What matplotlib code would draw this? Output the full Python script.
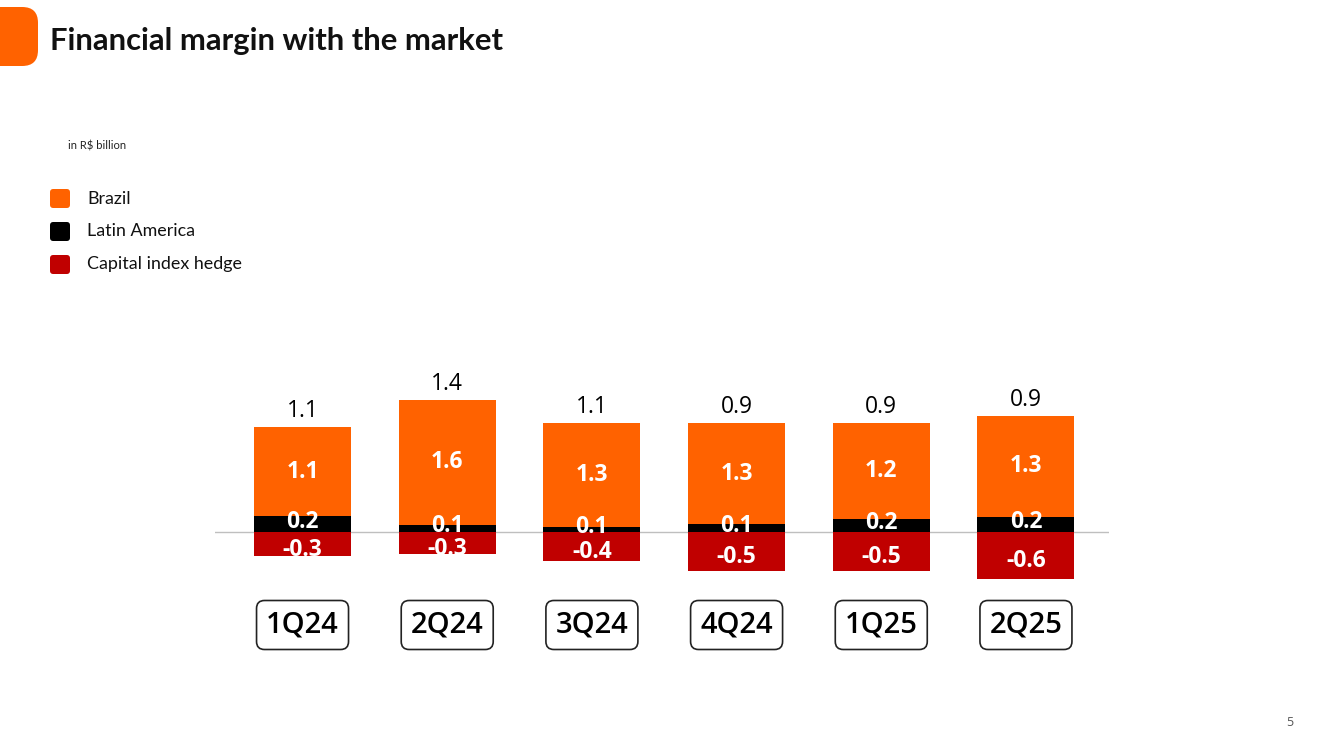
import numpy as np
import matplotlib
matplotlib.use('Agg')
import matplotlib.pyplot as plt
from matplotlib.patches import FancyBboxPatch

# data (R$ billion)
quarters = ['1Q24', '2Q24', '3Q24', '4Q24', '1Q25', '2Q25']
brazil = [1.11, 1.56, 1.30, 1.26, 1.20, 1.26]
latam = [0.20, 0.09, 0.06, 0.10, 0.16, 0.19]
hedge = [-0.30, -0.28, -0.36, -0.49, -0.49, -0.59]
total = ['1.1', '1.4', '1.1', '0.9', '0.9', '0.9']
series = ['Brazil', 'Latin America', 'Capital index hedge']

c_orange = '#FF6200'
c_black = '#000000'
c_red = '#C00000'
colors = [c_orange, c_black, c_red]

W, H = 1318, 741
fig = plt.figure(figsize=(W / 100, H / 100), dpi=100)
fig.patch.set_facecolor('white')

# top-left orange tab
fig.patches.append(FancyBboxPatch((-20 / W, 1 - 66 / H), 58 / W, 59 / H,
                                  boxstyle='round,pad=0,rounding_size=0.012',
                                  transform=fig.transFigure, fc=c_orange, ec='none',
                                  mutation_aspect=W / H))
fig.text(50 / W, 1 - 41 / H, 'Financial margin with the market', fontsize=22.3,
         fontweight='bold', family='Lato', va='center', ha='left', color='#111111')
fig.text(68 / W, 1 - 146 / H, 'in R$ billion', fontsize=8, family='Lato',
         va='center', ha='left', color='#222222')

# legend
for i, (name, col) in enumerate(zip(series, colors)):
    yc = 1 - (198.5 + 33 * i) / H
    fig.patches.append(FancyBboxPatch((50 / W, yc - 9.5 / H), 20 / W, 19 / H,
                                      boxstyle='round,pad=0,rounding_size=0.0025',
                                      transform=fig.transFigure, fc=col, ec='none',
                                      mutation_aspect=W / H))
    fig.text(87 / W, yc, name, fontsize=12.9, family='Lato', va='center',
             ha='left', color='#111111')

fig.text(1290 / W, 1 - 722 / H, '5', fontsize=9, color='#555555', family='Open Sans',
         va='center', ha='center')

ax = fig.add_axes([215 / W, 1 - 660 / H, (1109 - 215) / W, 300 / H])
ax.set_xlim(-0.605, 5.574)
ax.set_ylim(-1.6, 2.15)
ax.axis('off')

x = np.arange(len(quarters))
bw = 0.67
ax.axhline(0, color='#BFBFBF', lw=1, zorder=0)
ax.bar(x, latam, bw, color=c_black, zorder=2)
ax.bar(x, brazil, bw, bottom=latam, color=c_orange, zorder=2)
ax.bar(x, hedge, bw, color=c_red, zorder=2)

lab = dict(family='Open Sans', fontsize=16.5, fontweight='bold', color='white',
           ha='center', va='center', zorder=5)
for i in range(len(quarters)):
    top = latam[i] + brazil[i]
    ax.text(x[i], latam[i] + brazil[i] / 2, f'{brazil[i]:.1f}', **lab)
    ax.text(x[i], latam[i] / 2 + 0.03, f'{latam[i]:.1f}', **lab)
    ax.text(x[i], hedge[i] / 2 - 0.07, f'{hedge[i]:.1f}', **lab)
    ax.annotate(total[i], (x[i], top), xytext=(0, 7), textcoords='offset points',
                ha='center', va='baseline', fontsize=16.5, family='Open Sans',
                color='black')
    # quarter label in rounded box
    ycat = -(625 - 532) / 80
    bwid, bh = 92 / 144.7, 49 / 80
    ax.add_patch(FancyBboxPatch((x[i] - bwid / 2, ycat - bh / 2), bwid, bh,
                                boxstyle='round,pad=0,rounding_size=0.055',
                                mutation_aspect=144.7 / 80, fc='white',
                                ec='#222222', lw=1.2, clip_on=False))
    ax.text(x[i], ycat, quarters[i], fontsize=21, family='Open Sans',
            fontweight='semibold', ha='center', va='center', color='black')

fig.savefig('out.png', dpi=100, facecolor='white')
